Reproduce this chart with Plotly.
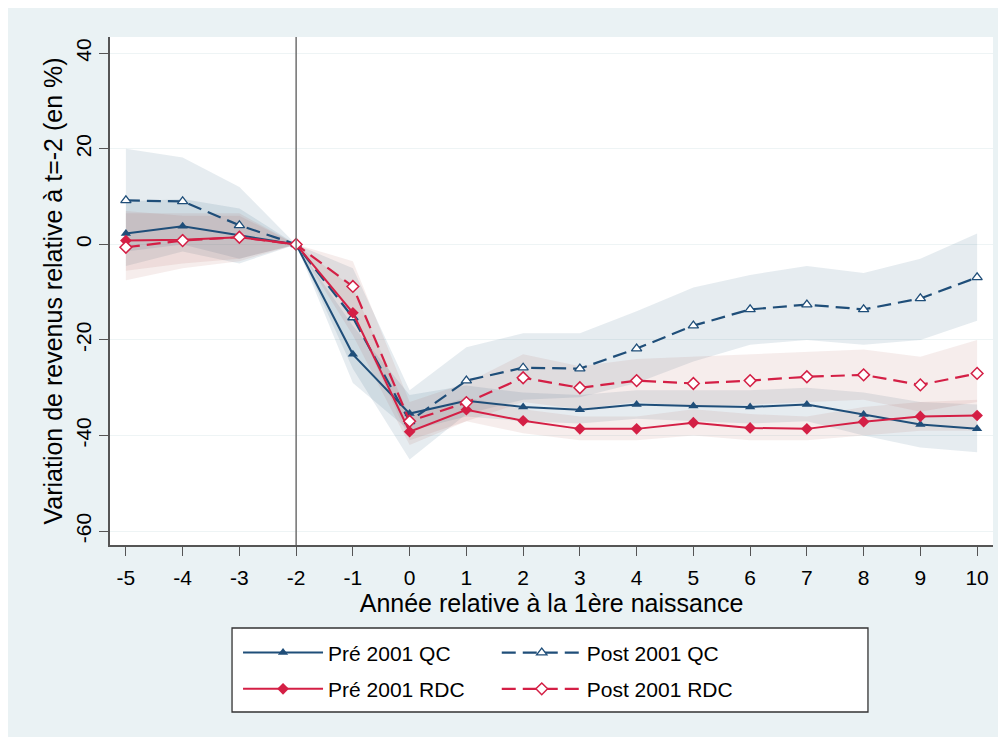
import plotly.graph_objects as go

# Années relatives à la 1ère naissance
annees = [-5, -4, -3, -2, -1, 0, 1, 2, 3, 4, 5, 6, 7, 8, 9, 10]
y_ticks = [-60, -40, -20, 0, 20, 40]
y_labels = ["-60", "-40", "-20", "0", "20", "40"]
x_labels = [str(a) for a in annees]

# Pré 2001 QC
pre_qc = [2.3, 3.8, 1.9, 0, -23.0, -35.4, -32.7, -34.0, -34.6, -33.5, -33.8, -34.0, -33.5, -35.6, -37.7, -38.6]
pre_qc_lo = [-4.5, -1.5, -4.0, 0, -29.0, -39.0, -36.0, -37.0, -37.5, -36.5, -37.0, -37.5, -37.0, -40.0, -42.5, -43.5]
pre_qc_hi = [9.0, 9.5, 7.5, 0, -17.0, -31.5, -29.5, -31.0, -31.5, -30.5, -30.5, -30.5, -30.0, -31.0, -33.0, -33.5]

# Post 2001 QC
post_qc = [9.2, 9.0, 4.0, 0, -15.3, -37.0, -28.5, -25.8, -26.0, -21.8, -17.0, -13.6, -12.6, -13.6, -11.3, -6.9]
post_qc_lo = [-1.5, 0.0, -3.0, 0, -26.0, -45.0, -35.5, -32.5, -32.0, -29.0, -24.5, -21.0, -20.0, -21.0, -20.0, -16.0]
post_qc_hi = [20.0, 18.2, 12.0, 0, -5.0, -30.5, -21.5, -18.6, -18.6, -14.0, -9.0, -6.4, -4.5, -6.0, -3.0, 2.3]

# Pré 2001 RDC
pre_rdc = [0.8, 1.0, 1.5, 0, -14.3, -39.2, -34.6, -36.9, -38.6, -38.6, -37.3, -38.4, -38.6, -37.1, -36.0, -35.8]
pre_rdc_lo = [-5.5, -4.0, -3.0, 0, -19.0, -42.0, -37.0, -39.5, -41.0, -41.0, -40.0, -41.0, -41.0, -40.0, -39.0, -39.0]
pre_rdc_hi = [7.0, 6.0, 6.0, 0, -9.0, -36.0, -32.0, -34.5, -36.0, -36.0, -34.5, -35.5, -36.0, -34.0, -33.0, -32.5]

# Post 2001 RDC
post_rdc = [-0.6, 0.8, 1.5, 0, -8.8, -37.0, -33.1, -27.9, -30.0, -28.5, -29.1, -28.5, -27.7, -27.3, -29.4, -27.0]
post_rdc_lo = [-7.5, -5.0, -3.5, 0, -14.5, -41.0, -37.0, -33.0, -34.5, -33.0, -34.0, -33.5, -33.0, -32.5, -35.0, -33.0]
post_rdc_hi = [6.5, 6.5, 6.5, 0, -3.5, -33.0, -29.0, -23.0, -25.5, -24.0, -23.5, -23.0, -22.5, -22.0, -23.5, -20.0]

navy = "#1f4e79"
rouge = "#d41f45"
tirets = "14px,7px"

fig = go.Figure()

# intervalles de confiance
bandes = [
    (post_qc_lo, post_qc_hi, "rgba(31,78,121,0.11)"),
    (pre_qc_lo, pre_qc_hi, "rgba(31,78,121,0.11)"),
    (post_rdc_lo, post_rdc_hi, "rgba(170,80,70,0.10)"),
    (pre_rdc_lo, pre_rdc_hi, "rgba(170,80,70,0.10)"),
]
for lo, hi, c in bandes:
    fig.add_trace(go.Scatter(x=annees + annees[::-1], y=hi + lo[::-1], fill="toself",
                             fillcolor=c, line=dict(width=0), mode="lines",
                             hoverinfo="skip", showlegend=False))

fig.add_trace(go.Scatter(x=annees, y=pre_qc, mode="lines+markers", name="Pré 2001 QC",
                         legend="legend", legendgroup="a",
                         line=dict(color=navy, width=2),
                         marker=dict(symbol="triangle-up", size=9, color=navy)))
fig.add_trace(go.Scatter(x=annees, y=post_qc, mode="lines+markers", name="Post 2001 QC",
                         legend="legend2", legendgroup="b",
                         line=dict(color=navy, width=2.2, dash=tirets),
                         marker=dict(symbol="triangle-up", size=9, color="white",
                                     line=dict(color=navy, width=1.3))))
fig.add_trace(go.Scatter(x=annees, y=pre_rdc, mode="lines+markers", name="Pré 2001 RDC",
                         legend="legend", legendgroup="c",
                         line=dict(color=rouge, width=2),
                         marker=dict(symbol="diamond", size=9, color=rouge)))
fig.add_trace(go.Scatter(x=annees, y=post_rdc, mode="lines+markers", name="Post 2001 RDC",
                         legend="legend2", legendgroup="d",
                         line=dict(color=rouge, width=2.2, dash=tirets),
                         marker=dict(symbol="diamond", size=9, color="white",
                                     line=dict(color=rouge, width=1.5))))

fig.add_vline(x=-2, line_color="#707070", line_width=1.5)

# cadre de la légende
fig.add_shape(type="rect", xref="paper", yref="paper", x0=0.1382, x1=0.8584, y0=-0.3287, y1=-0.1634,
              fillcolor="white", line=dict(color="#333333", width=1.3), layer="above")

leg = dict(orientation="v", y=-0.172, xanchor="left", yanchor="top",
           bgcolor="rgba(0,0,0,0)", borderwidth=0,
           itemwidth=80, tracegroupgap=6, font=dict(size=21))

fig.update_layout(
    width=998, height=729,
    margin=dict(l=102, r=13, t=29, b=192),
    paper_bgcolor="#eaf2f4", plot_bgcolor="white",
    font=dict(family="Liberation Sans, Arial, sans-serif", size=21, color="black"),
    legend=dict(leg, x=0.145),
    legend2=dict(leg, x=0.438),
    xaxis=dict(range=[-5.28, 10.28], tickvals=annees, ticktext=x_labels, automargin=False,
               showgrid=False, zeroline=False,
               showline=True, linecolor="#555555", linewidth=1.5,
               ticks="outside", ticklen=9, tickcolor="#555555", ticklabelstandoff=4,
               title=dict(text="Année relative à la 1ère naissance", standoff=3)),
    yaxis=dict(range=[-62.9, 43.4], tickvals=y_ticks, ticktext=y_labels, tickangle=-90,
               automargin=False,
               showgrid=True, gridcolor="#eef4f5", gridwidth=1, zeroline=False,
               showline=True, linecolor="#555555", linewidth=1.5,
               ticks="outside", ticklen=9, tickcolor="#555555",
               title=dict(text="Variation de revenus relative à t=-2 (en %)", standoff=2)),
)

fig.write_html("out.html")
